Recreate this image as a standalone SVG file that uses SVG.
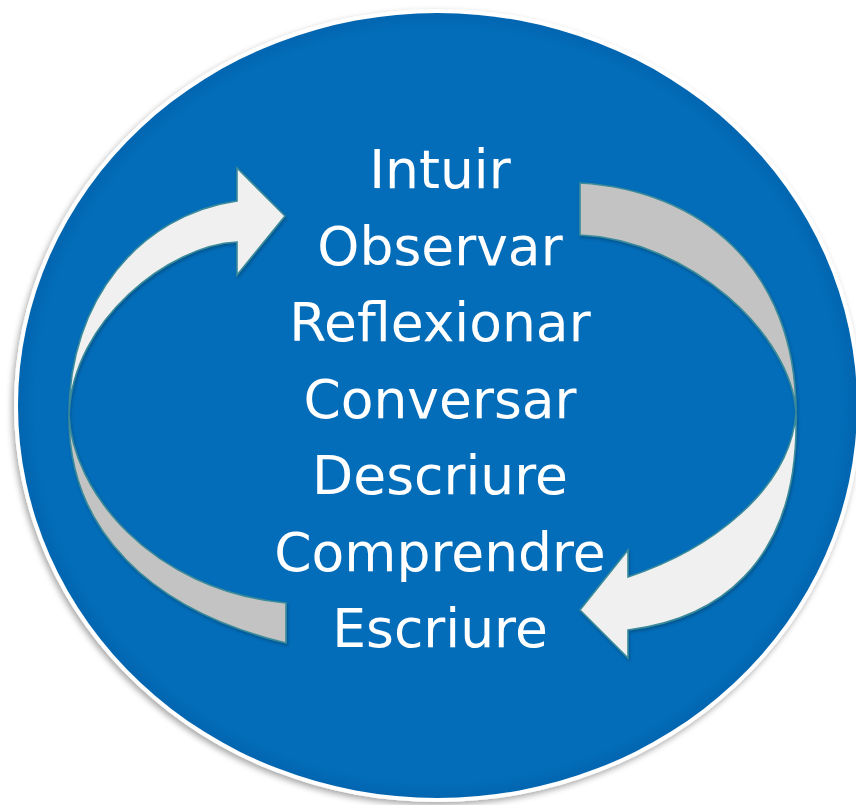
<svg xmlns="http://www.w3.org/2000/svg" width="856" height="805" viewBox="0 0 856 805">
  <defs>
    <filter id="ringShadow" x="-10%" y="-10%" width="120%" height="120%">
      <feDropShadow dx="-2" dy="3" stdDeviation="3" flood-color="#000" flood-opacity="0.35"/>
    </filter>
    <filter id="arrowShadow" x="-10%" y="-10%" width="120%" height="120%">
      <feDropShadow dx="1" dy="2" stdDeviation="1.5" flood-color="#00305a" flood-opacity="0.45"/>
    </filter>
    <radialGradient id="discFill" cx="0.5" cy="0.5" r="0.5">
      <stop offset="0.96" stop-color="#036DB9"/>
      <stop offset="1" stop-color="#0265B0"/>
    </radialGradient>
    <style>
      .label { font-family: "DejaVu Sans", Verdana, sans-serif; font-size: 53.5px; fill: #FFFFFF; text-anchor: middle; }
      .light { fill: #F0F0F0; stroke: #3A8B9B; stroke-width: 1.6; stroke-linejoin: miter; }
      .dark { fill: #C3C3C3; stroke: #3A8B9B; stroke-width: 1.6; stroke-linejoin: miter; }
    </style>
  </defs>
  <rect width="856" height="805" fill="#FFFFFF"/>
  <g id="disc">
    <ellipse cx="437.5" cy="405.5" rx="423.5" ry="396.5" fill="#FFFFFF" filter="url(#ringShadow)"/>
    <ellipse cx="437.5" cy="405.5" rx="419.5" ry="392.5" fill="url(#discFill)"/>
  </g>
  <g id="connectors" filter="url(#arrowShadow)">
    <path id="left-tail" class="dark" d="M 69 415 C 68 530 150 610 286 643 L 286 603 C 150 590 72 490 69 415 Z"/>
    <path id="left-arrow" class="light" d="M 69 415 C 69 300 140 215 237 201 L 237 168 L 285 216 L 237 275 L 237 242 C 170 245 72 320 69 415 Z"/>
    <path id="right-tail" class="dark" d="M 580 183 C 700 190 796 268 796 413 C 792 335 690 240 580 235 Z"/>
    <path id="right-arrow" class="light" d="M 796 413 C 800 570 710 620 628 630 L 628 658 L 580 610 L 628 550 L 628 577 C 710 550 790 490 796 413 Z"/>
  </g>
  <g id="node-intuir"><text class="label" x="440" y="188">Intuir</text></g>
  <g id="node-observar"><text class="label" x="440" y="264.5">Observar</text></g>
  <g id="node-reflexionar"><text class="label" x="440" y="341">Reflexionar</text></g>
  <g id="node-conversar"><text class="label" x="440" y="417.5">Conversar</text></g>
  <g id="node-descriure"><text class="label" x="440" y="494">Descriure</text></g>
  <g id="node-comprendre"><text class="label" x="440" y="570.5">Comprendre</text></g>
  <g id="node-escriure"><text class="label" x="440" y="647">Escriure</text></g>
</svg>
